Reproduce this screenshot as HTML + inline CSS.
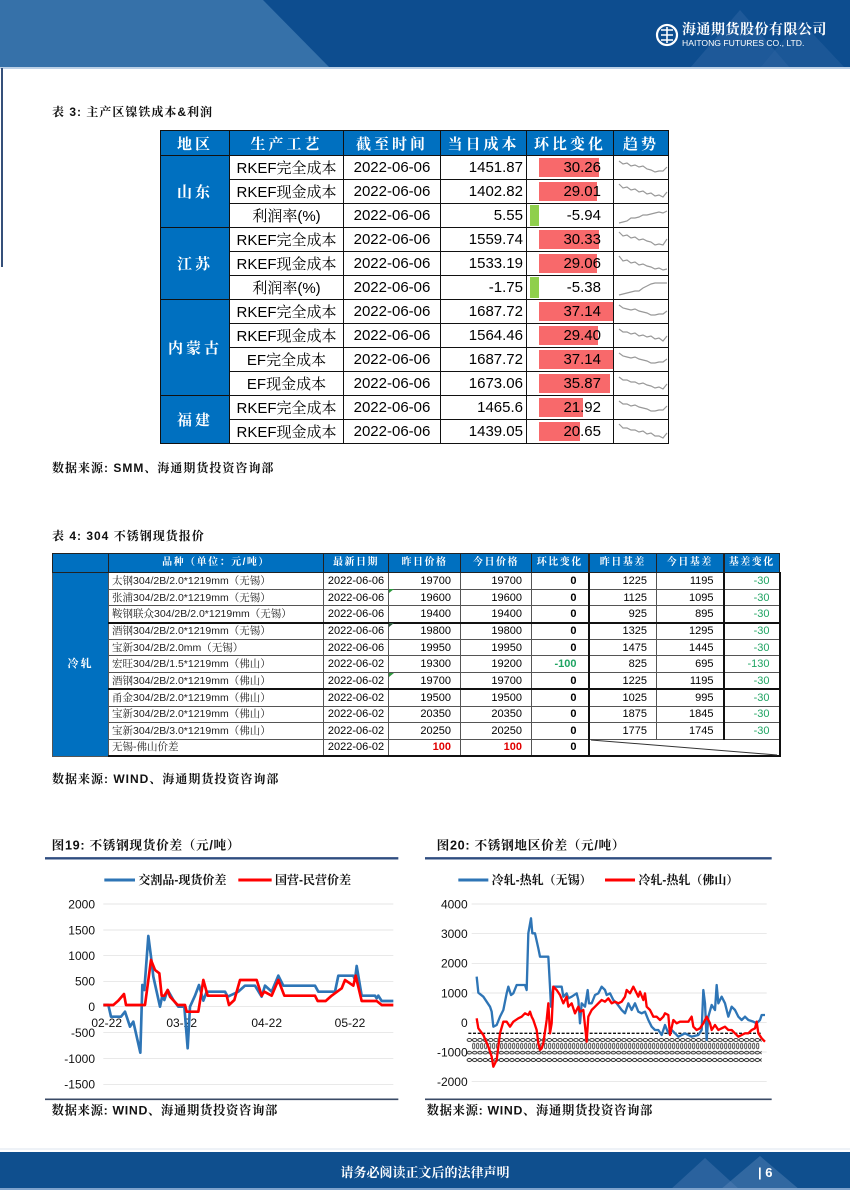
<!DOCTYPE html>
<html><head><meta charset="utf-8">
<style>
*{margin:0;padding:0;box-sizing:border-box}
html,body{width:850px;height:1202px;background:#fff;overflow:hidden}
body{position:relative;font-family:"Liberation Sans","Noto Sans CJK SC",sans-serif;color:#000}
.serif{font-family:"Liberation Sans","Noto Serif CJK SC",serif}
.abs{position:absolute}
.ttl{position:absolute;font-family:"Liberation Sans","Noto Serif CJK SC",serif;font-weight:bold;font-size:12px;letter-spacing:1px;color:#111;white-space:nowrap}
table{border-collapse:collapse;table-layout:fixed;position:absolute}
#t3 td{border:1.5px solid #111;font-size:15px;height:24px;padding:0;white-space:nowrap;position:relative;font-family:"Liberation Sans","Noto Serif CJK SC",serif}
#t3 .h td{background:#0070c0;color:#fff;font-weight:bold;text-align:center;letter-spacing:3px;height:25px}
#t3 .rg{background:#0070c0;color:#fff;font-weight:bold;text-align:center;letter-spacing:3px}
#t3 .c{text-align:center}
#t3 .r{text-align:right;padding-right:3px}
#t3 .hb{text-align:right;padding-right:12px}
#t3 .hb span{position:relative;z-index:2}
.rb{position:absolute;left:12px;top:2px;bottom:2px;background:#f8696b;z-index:1}
.gb{position:absolute;left:3px;top:1px;bottom:1px;width:9px;background:#8fcf4c;z-index:1}
#t3 svg{position:absolute;left:0;top:0}
#t4 td{border:1px solid #555;font-size:11px;height:16.7px;padding:0;white-space:nowrap;line-height:14px}
#t4 .h td{background:#0070c0;color:#fff;font-weight:bold;text-align:center;font-size:10px;letter-spacing:1.5px;height:19px;font-family:"Liberation Sans","Noto Serif CJK SC",serif;border-color:#222}
#t4 .rg{background:#0070c0;color:#fff;font-weight:bold;text-align:center;letter-spacing:2px;font-family:"Liberation Sans","Noto Serif CJK SC",serif}
#t4 .p{font-family:"Liberation Sans","Noto Serif CJK SC",serif;font-size:10.5px;padding-left:3px;color:#222}
#t4 .d{text-align:center}
#t4 .n{text-align:right;padding-right:9px}
#t4 .z{text-align:right;padding-right:11px;font-weight:bold}
#t4 .g{color:#1fa463}
#t4 .red{color:#e00000;font-weight:bold}
#t4 .tk{border-bottom:2px solid #111}
#t4 .vl{border-left:2px solid #111}
#t4 .vr{border-right:2px solid #111}
</style></head><body>

<!-- header band -->
<svg class="abs" style="left:0;top:0" width="850" height="70" viewBox="0 0 850 70">
  <rect x="0" y="0" width="850" height="68" fill="#0d4d8f"/>
  <polygon points="0,0 263,0 330,68 0,68" fill="#3671a9"/>
  <polygon points="690,68 740,10 790,68" fill="#2a62a0" opacity="0.6"/>
  <polygon points="760,68 800,20 845,68" fill="#2a62a0" opacity="0.5"/>
  <rect x="0" y="67" width="850" height="2" fill="#bcd0e6"/>
  <circle cx="667" cy="35" r="10" fill="none" stroke="#fff" stroke-width="2.2"/>
  <path d="M661 30 h12 M661 35 h12 M661 40 h12 M667 27 v16" stroke="#fff" stroke-width="1.6" fill="none"/>
  <text x="682" y="34" fill="#fff" font-family="Liberation Sans,Noto Serif CJK SC,serif" font-weight="bold" font-size="14" letter-spacing="0.5">海通期货股份有限公司</text>
  <text x="682" y="46" fill="#fff" font-family="Liberation Sans,sans-serif" font-size="8.6">HAITONG FUTURES CO., LTD.</text>
</svg>
<div class="abs" style="left:1px;top:68px;width:1.5px;height:199px;background:#35507a"></div>

<div class="ttl" style="left:52px;top:103px">表 3: 主产区镍铁成本&amp;利润</div>

<table id="t3" style="left:160px;top:130px;width:508px">
<colgroup><col style="width:69px"><col style="width:114px"><col style="width:97px"><col style="width:86px"><col style="width:87px"><col style="width:55px"></colgroup>
<tr class="h"><td>地区</td><td>生产工艺</td><td>截至时间</td><td>当日成本</td><td>环比变化</td><td>趋势</td></tr>
<tr><td class="rg" rowspan="3">山东</td><td class="c">RKEF完全成本</td><td class="c">2022-06-06</td><td class="r">1451.87</td><td class="hb"><div class="rb" style="width:60px"></div><span>30.26</span></td><td><svg width="55" height="24"><polyline points="5,5 9,8 13,7 17,10 21,9 25,11 29,10 33,13 37,14 41,16 45,15 49,15 53,11" fill="none" stroke="#999" stroke-width="1.2"/></svg></td></tr>
<tr><td class="c">RKEF现金成本</td><td class="c">2022-06-06</td><td class="r">1402.82</td><td class="hb"><div class="rb" style="width:58px"></div><span>29.01</span></td><td><svg width="55" height="24"><polyline points="5,4 9,8 13,7 17,10 21,9 25,12 29,11 33,14 37,13 41,16 45,15 49,17 53,12" fill="none" stroke="#999" stroke-width="1.2"/></svg></td></tr>
<tr><td class="c">利润率(%)</td><td class="c">2022-06-06</td><td class="r">5.55</td><td class="hb"><div class="gb"></div><span>-5.94</span></td><td><svg width="55" height="24"><polyline points="5,19 9,18 13,17 17,14 21,14 25,13 29,11 33,11 37,10 41,9 45,8 49,9 53,7" fill="none" stroke="#999" stroke-width="1.2"/></svg></td></tr>
<tr><td class="rg" rowspan="3">江苏</td><td class="c">RKEF完全成本</td><td class="c">2022-06-06</td><td class="r">1559.74</td><td class="hb"><div class="rb" style="width:60px"></div><span>30.33</span></td><td><svg width="55" height="24"><polyline points="5,4 9,8 13,7 17,10 21,9 25,12 29,11 33,13 37,14 41,17 45,16 49,17 53,11" fill="none" stroke="#999" stroke-width="1.2"/></svg></td></tr>
<tr><td class="c">RKEF现金成本</td><td class="c">2022-06-06</td><td class="r">1533.19</td><td class="hb"><div class="rb" style="width:58px"></div><span>29.06</span></td><td><svg width="55" height="24"><polyline points="5,4 9,9 13,8 17,11 21,10 25,13 29,12 33,14 37,15 41,17 45,16 49,18 53,17" fill="none" stroke="#999" stroke-width="1.2"/></svg></td></tr>
<tr><td class="c">利润率(%)</td><td class="c">2022-06-06</td><td class="r">-1.75</td><td class="hb"><div class="gb"></div><span>-5.38</span></td><td><svg width="55" height="24"><polyline points="5,19 9,18 13,17 17,16 21,15 25,15 29,12 33,10 37,8 41,7 45,7 49,7 53,7" fill="none" stroke="#999" stroke-width="1.2"/></svg></td></tr>
<tr><td class="rg" rowspan="4">内蒙古</td><td class="c">RKEF完全成本</td><td class="c">2022-06-06</td><td class="r">1687.72</td><td class="hb"><div class="rb" style="width:74px"></div><span>37.14</span></td><td><svg width="55" height="24"><polyline points="5,5 9,8 13,9 17,10 21,9 25,11 29,12 33,13 37,15 41,15 45,14 49,14 53,11" fill="none" stroke="#999" stroke-width="1.2"/></svg></td></tr>
<tr><td class="c">RKEF现金成本</td><td class="c">2022-06-06</td><td class="r">1564.46</td><td class="hb"><div class="rb" style="width:59px"></div><span>29.40</span></td><td><svg width="55" height="24"><polyline points="5,5 9,8 13,8 17,10 21,9 25,12 29,11 33,13 37,12 41,15 45,14 49,17 53,12" fill="none" stroke="#999" stroke-width="1.2"/></svg></td></tr>
<tr><td class="c">EF完全成本</td><td class="c">2022-06-06</td><td class="r">1687.72</td><td class="hb"><div class="rb" style="width:74px"></div><span>37.14</span></td><td><svg width="55" height="24"><polyline points="5,5 9,8 13,9 17,10 21,9 25,11 29,12 33,13 37,15 41,15 45,14 49,14 53,11" fill="none" stroke="#999" stroke-width="1.2"/></svg></td></tr>
<tr><td class="c">EF现金成本</td><td class="c">2022-06-06</td><td class="r">1673.06</td><td class="hb"><div class="rb" style="width:71px"></div><span>35.87</span></td><td><svg width="55" height="24"><polyline points="5,5 9,8 13,8 17,10 21,10 25,12 29,11 33,13 37,14 41,16 45,15 49,17 53,12" fill="none" stroke="#999" stroke-width="1.2"/></svg></td></tr>
<tr><td class="rg" rowspan="2">福建</td><td class="c">RKEF完全成本</td><td class="c">2022-06-06</td><td class="r">1465.6</td><td class="hb"><div class="rb" style="width:44px"></div><span>21.92</span></td><td><svg width="55" height="24"><polyline points="5,5 9,8 13,8 17,10 21,9 25,11 29,12 33,13 37,15 41,15 45,14 49,14 53,10" fill="none" stroke="#999" stroke-width="1.2"/></svg></td></tr>
<tr><td class="c">RKEF现金成本</td><td class="c">2022-06-06</td><td class="r">1439.05</td><td class="hb"><div class="rb" style="width:41px"></div><span>20.65</span></td><td><svg width="55" height="24"><polyline points="5,4 9,8 13,8 17,10 21,10 25,12 29,11 33,14 37,13 41,16 45,16 49,18 53,13" fill="none" stroke="#999" stroke-width="1.2"/></svg></td></tr>
</table>

<div class="ttl" style="left:52px;top:459px">数据来源: SMM、海通期货投资咨询部</div>

<div class="ttl" style="left:52px;top:527px">表 4: 304 不锈钢现货报价</div>

<table id="t4" style="left:52px;top:553px;width:727px">
<colgroup><col style="width:56px"><col style="width:215px"><col style="width:65px"><col style="width:72px"><col style="width:71px"><col style="width:57px"><col style="width:68px"><col style="width:67px"><col style="width:56px"></colgroup>
<tr class="h"><td></td><td>品种（单位：元/吨）</td><td>最新日期</td><td>昨日价格</td><td>今日价格</td><td>环比变化</td><td class="vl">昨日基差</td><td>今日基差</td><td class="vl">基差变化</td></tr>
<tr><td class="rg" rowspan="11">冷轧</td><td class="p">太钢304/2B/2.0*1219mm（无锡）</td><td class="d">2022-06-06</td><td class="n">19700</td><td class="n">19700</td><td class="z">0</td><td class="n vl">1225</td><td class="n">1195</td><td class="n g vl vr">-30</td></tr>
<tr><td class="p">张浦304/2B/2.0*1219mm（无锡）</td><td class="d">2022-06-06</td><td class="n">19600</td><td class="n">19600</td><td class="z">0</td><td class="n vl">1125</td><td class="n">1095</td><td class="n g vl vr">-30</td></tr>
<tr><td class="p tk">鞍钢联众304/2B/2.0*1219mm（无锡）</td><td class="d tk">2022-06-06</td><td class="n tk">19400</td><td class="n tk">19400</td><td class="z tk">0</td><td class="n vl tk">925</td><td class="n tk">895</td><td class="n g vl vr tk">-30</td></tr>
<tr><td class="p">酒钢304/2B/2.0*1219mm（无锡）</td><td class="d">2022-06-06</td><td class="n">19800</td><td class="n">19800</td><td class="z">0</td><td class="n vl">1325</td><td class="n">1295</td><td class="n g vl vr">-30</td></tr>
<tr><td class="p">宝新304/2B/2.0mm（无锡）</td><td class="d">2022-06-06</td><td class="n">19950</td><td class="n">19950</td><td class="z">0</td><td class="n vl">1475</td><td class="n">1445</td><td class="n g vl vr">-30</td></tr>
<tr><td class="p">宏旺304/2B/1.5*1219mm（佛山）</td><td class="d">2022-06-02</td><td class="n">19300</td><td class="n">19200</td><td class="z g">-100</td><td class="n vl">825</td><td class="n">695</td><td class="n g vl vr">-130</td></tr>
<tr><td class="p tk">酒钢304/2B/2.0*1219mm（佛山）</td><td class="d tk">2022-06-02</td><td class="n tk">19700</td><td class="n tk">19700</td><td class="z tk">0</td><td class="n vl tk">1225</td><td class="n tk">1195</td><td class="n g vl vr tk">-30</td></tr>
<tr><td class="p">甬金304/2B/2.0*1219mm（佛山）</td><td class="d">2022-06-02</td><td class="n">19500</td><td class="n">19500</td><td class="z">0</td><td class="n vl">1025</td><td class="n">995</td><td class="n g vl vr">-30</td></tr>
<tr><td class="p">宝新304/2B/2.0*1219mm（佛山）</td><td class="d">2022-06-02</td><td class="n">20350</td><td class="n">20350</td><td class="z">0</td><td class="n vl">1875</td><td class="n">1845</td><td class="n g vl vr">-30</td></tr>
<tr><td class="p">宝新304/2B/3.0*1219mm（佛山）</td><td class="d">2022-06-02</td><td class="n">20250</td><td class="n">20250</td><td class="z">0</td><td class="n vl">1775</td><td class="n">1745</td><td class="n g vl vr">-30</td></tr>
<tr><td class="p tk">无锡-佛山价差</td><td class="d tk">2022-06-02</td><td class="n red tk">100</td><td class="n red tk">100</td><td class="z tk">0</td><td class="vl vr tk" colspan="3" style="border-top:1px solid #555"></td></tr>
</table>
<svg class="abs" style="left:0;top:0" width="850" height="800">
  <line x1="591" y1="740" x2="777" y2="755" stroke="#333" stroke-width="1"/>
  <polygon points="389,589 394,589 389,593" fill="#2e9a3e"/>
  <polygon points="389,623 394,623 389,627" fill="#2e5a3e"/>
  <polygon points="389,673 394,673 389,677" fill="#2e9a3e"/>
</svg>

<div class="ttl" style="left:52px;top:770px">数据来源: WIND、海通期货投资咨询部</div>

<!-- Chart 19 -->
<svg class="abs" style="left:45px;top:830px" width="370" height="290" viewBox="0 0 1110 870" font-family="Liberation Sans,Noto Serif CJK SC,serif">
  <text x="20" y="58" font-size="38" font-weight="bold" fill="#111" letter-spacing="2">图19: 不锈钢现货价差（元/吨）</text>
  <line x1="0" y1="85" x2="1060" y2="85" stroke="#2f4d80" stroke-width="7"/>
  <g stroke="#dcdcdc" stroke-width="2">
    <line x1="175" y1="222" x2="1045" y2="222"/><line x1="175" y1="300" x2="1045" y2="300"/>
    <line x1="175" y1="377" x2="1045" y2="377"/><line x1="175" y1="454" x2="1045" y2="454"/>
    <line x1="175" y1="530" x2="1045" y2="530"/><line x1="175" y1="608" x2="1045" y2="608"/>
    <line x1="175" y1="686" x2="1045" y2="686"/><line x1="175" y1="763" x2="1045" y2="763"/>
  </g>
  <g font-size="36" fill="#111" text-anchor="end" font-family="Liberation Sans,sans-serif">
    <text x="150" y="235">2000</text><text x="150" y="313">1500</text><text x="150" y="390">1000</text>
    <text x="150" y="467">500</text><text x="150" y="543">0</text><text x="150" y="621">-500</text>
    <text x="150" y="699">-1000</text><text x="150" y="776">-1500</text>
  </g>
  <g font-size="36" fill="#111" text-anchor="middle" font-family="Liberation Sans,sans-serif">
    <text x="185" y="591">02-22</text><text x="410" y="591">03-22</text><text x="665" y="591">04-22</text><text x="915" y="591">05-22</text>
  </g>
  <line x1="178" y1="150" x2="270" y2="150" stroke="#2e75b6" stroke-width="9"/>
  <text x="280" y="162" font-size="36" fill="#111" font-weight="bold">交割品-现货价差</text>
  <line x1="580" y1="150" x2="680" y2="150" stroke="#ff0000" stroke-width="9"/>
  <text x="690" y="162" font-size="36" fill="#111" font-weight="bold">国营-民营价差</text>
  <polyline fill="none" stroke="#2e75b6" stroke-width="8" stroke-linejoin="round" points="175,525 190,525 198,560 228,560 240,545 255,590 265,575 286,668 292,465 298,480 310,318 318,380 325,440 345,530 352,497 358,510 368,480 385,510 400,530 418,530 428,655 435,530 450,497 462,465 475,512 485,485 540,485 548,500 580,485 600,467 630,467 650,500 660,467 680,485 700,437 715,467 810,467 820,485 870,485 880,437 925,437 930,450 935,408 950,497 990,497 995,505 1000,497 1010,513 1045,513"/>
  <polyline fill="none" stroke="#ff0000" stroke-width="8" stroke-linejoin="round" points="175,525 205,525 220,512 237,492 243,525 300,525 306,480 318,390 330,420 343,430 350,497 358,497 368,480 375,500 398,525 420,525 425,545 460,545 475,450 488,497 545,497 552,525 568,510 585,450 635,450 650,497 658,485 680,497 700,450 718,497 810,497 818,513 842,513 860,497 890,475 900,450 925,467 932,437 950,513 995,513 1010,525 1045,525"/>
  <line x1="0" y1="808" x2="1060" y2="808" stroke="#3a4a66" stroke-width="5"/>
  <text x="20" y="853" font-size="37" font-weight="bold" fill="#111" letter-spacing="2">数据来源: WIND、海通期货投资咨询部</text>
</svg>

<!-- Chart 20 -->
<svg class="abs" style="left:425px;top:830px" width="370" height="290" viewBox="0 0 1110 870" font-family="Liberation Sans,Noto Serif CJK SC,serif">
  <defs>
    <pattern id="ovA" x="125" y="623" width="16" height="14" patternUnits="userSpaceOnUse"><ellipse cx="8" cy="7" rx="6.5" ry="4.5" fill="none" stroke="#111" stroke-width="2.5"/></pattern>
    <pattern id="ovB" x="140" y="638" width="12" height="20" patternUnits="userSpaceOnUse"><ellipse cx="6" cy="10" rx="3.5" ry="8.5" fill="none" stroke="#111" stroke-width="2.2"/></pattern>
    <pattern id="ovC" x="125" y="662" width="16" height="12" patternUnits="userSpaceOnUse"><ellipse cx="8" cy="6" rx="6.5" ry="4" fill="none" stroke="#111" stroke-width="2.5"/></pattern>
    <pattern id="ovD" x="125" y="683" width="16" height="14" patternUnits="userSpaceOnUse"><ellipse cx="8" cy="7" rx="6.5" ry="4.5" fill="none" stroke="#111" stroke-width="2.8"/></pattern>
  </defs>
  <text x="35" y="58" font-size="38" font-weight="bold" fill="#111" letter-spacing="2">图20: 不锈钢地区价差（元/吨）</text>
  <line x1="0" y1="85" x2="1040" y2="85" stroke="#2f4d80" stroke-width="7"/>
  <g stroke="#dcdcdc" stroke-width="2">
    <line x1="140" y1="222" x2="1025" y2="222"/><line x1="140" y1="311" x2="1025" y2="311"/>
    <line x1="140" y1="400" x2="1025" y2="400"/><line x1="140" y1="489" x2="1025" y2="489"/>
    <line x1="140" y1="578" x2="1025" y2="578"/><line x1="140" y1="666" x2="1025" y2="666"/>
    <line x1="140" y1="755" x2="1025" y2="755"/>
  </g>
  <g font-size="36" fill="#111" text-anchor="end" font-family="Liberation Sans,sans-serif">
    <text x="128" y="235">4000</text><text x="128" y="324">3000</text><text x="128" y="413">2000</text>
    <text x="128" y="502">1000</text><text x="128" y="591">0</text><text x="128" y="679">-1000</text>
    <text x="128" y="768">-2000</text>
  </g>
  <line x1="130" y1="610" x2="1010" y2="610" stroke="#111" stroke-width="4" stroke-dasharray="9 5"/>
  <rect x="125" y="623" width="885" height="14" fill="url(#ovA)"/>
  <rect x="140" y="638" width="864" height="20" fill="url(#ovB)"/>
  <rect x="125" y="662" width="885" height="12" fill="url(#ovC)"/>
  <rect x="125" y="683" width="885" height="14" fill="url(#ovD)"/>
  <line x1="100" y1="150" x2="190" y2="150" stroke="#2e75b6" stroke-width="9"/>
  <text x="200" y="162" font-size="36" fill="#111" font-weight="bold">冷轧-热轧（无锡）</text>
  <line x1="540" y1="150" x2="630" y2="150" stroke="#ff0000" stroke-width="9"/>
  <text x="640" y="162" font-size="36" fill="#111" font-weight="bold">冷轧-热轧（佛山）</text>
  <polyline fill="none" stroke="#2e75b6" stroke-width="7" stroke-linejoin="round" points="155,440 160,488 175,500 195,530 200,545 205,590 215,585 225,560 235,540 245,490 250,470 258,495 265,490 275,465 300,465 305,480 310,310 318,265 322,310 330,310 340,355 345,380 370,380 375,470 378,530 385,470 410,470 415,500 425,490 430,505 440,500 455,490 460,510 465,580 470,520 480,530 488,480 492,520 500,520 510,495 520,490 530,470 540,480 545,495 555,490 565,510 575,520 590,540 600,550 610,520 620,540 630,520 640,545 650,550 660,545 670,570 680,590 690,600 700,600 710,615 720,585 730,610 740,600 750,610 760,620 780,610 800,620 820,615 830,600 835,480 840,520 845,630 850,560 860,525 870,540 875,465 880,520 885,510 890,500 900,520 910,560 920,530 930,540 940,560 950,570 960,560 970,570 985,575 995,580 1005,570 1010,555 1020,555"/>
  <polyline fill="none" stroke="#ff0000" stroke-width="7" stroke-linejoin="round" points="155,565 160,595 175,615 190,650 200,680 205,710 215,690 225,610 235,575 245,575 255,590 265,575 280,565 290,560 300,550 310,555 315,545 320,560 325,570 335,600 340,640 345,660 350,655 355,640 365,570 370,520 375,610 380,580 385,470 395,480 405,495 415,520 425,500 430,530 440,520 450,550 460,530 465,545 475,540 485,635 490,560 500,540 510,530 520,520 530,510 540,515 550,505 560,520 570,515 580,520 590,515 600,500 605,480 615,490 625,470 630,480 640,500 645,485 655,510 660,490 665,530 675,540 685,560 695,560 705,570 715,560 720,550 730,555 735,615 745,570 755,580 765,575 780,575 790,575 800,560 805,590 815,600 825,595 835,580 845,560 855,580 860,600 870,585 880,600 890,595 900,590 910,600 920,600 930,610 940,620 950,615 960,610 970,610 980,600 990,595 995,575 1000,610 1010,625 1020,635"/>
  <line x1="0" y1="808" x2="1040" y2="808" stroke="#3a4a66" stroke-width="5"/>
  <text x="5" y="853" font-size="37" font-weight="bold" fill="#111" letter-spacing="2">数据来源: WIND、海通期货投资咨询部</text>
</svg>

<!-- footer -->
<svg class="abs" style="left:0;top:1148px" width="850" height="48" viewBox="0 0 850 48">
  <rect x="0" y="0" width="850" height="2" fill="#eef2f7"/>
  <rect x="0" y="4" width="850" height="38" fill="#0f4f8e"/>
  <polygon points="670,42 705,10 740,42" fill="#3c70a8" opacity="0.6"/>
  <polygon points="720,42 760,8 800,42" fill="#5a88b8" opacity="0.45"/>
  <rect x="0" y="40" width="850" height="2" fill="#7fa3cc"/>
  <text x="425" y="29" text-anchor="middle" fill="#fff" font-family="Liberation Sans,Noto Serif CJK SC,serif" font-weight="bold" font-size="13">请务必阅读正文后的法律声明</text>
  <text x="758" y="29" fill="#fff" font-family="Liberation Sans,sans-serif" font-weight="bold" font-size="13">| 6</text>
</svg>

</body></html>
